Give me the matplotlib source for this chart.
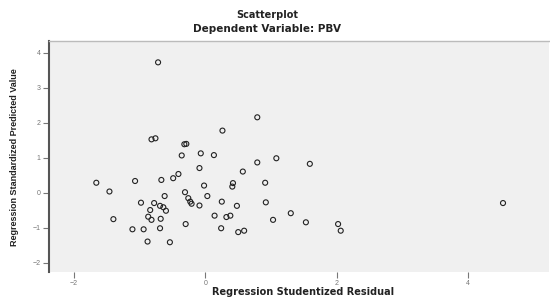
import matplotlib.pyplot as plt

# studentized residual (x) vs standardized predicted value (y)
resid = [-0.72, -0.82, -0.76, -0.29, -0.32, 0.26, 0.79, -0.36, -0.07, 0.13,
         1.08, 0.79, 1.59, -0.09, 0.57, -1.66, -1.46, -1.07, -0.67, -0.49,
         -0.41, -0.02, 0.42, 0.41, 0.91, -0.62, -0.31, -0.26, -0.23, -0.21,
         -0.09, 0.03, 0.25, 0.48, 0.92, -0.98, -0.78, -0.69, -0.60, -0.84,
         -0.87, -0.68, -0.82, -1.40, 0.14, 0.32, 0.38, -0.30, -1.11, -0.94,
         -0.69, 0.24, 0.50, 0.59, 1.03, 1.30, 1.53, 2.02, 2.06, -0.88,
         -0.54, 4.53, -0.64]
pred = [3.73, 1.53, 1.56, 1.40, 1.39, 1.78, 2.16, 1.07, 1.13, 1.08,
        0.99, 0.87, 0.83, 0.71, 0.61, 0.29, 0.04, 0.34, 0.37, 0.42,
        0.54, 0.21, 0.28, 0.18, 0.29, -0.09, 0.02, -0.15, -0.25, -0.31,
        -0.36, -0.09, -0.25, -0.37, -0.27, -0.28, -0.29, -0.37, -0.51, -0.49,
        -0.68, -0.74, -0.77, -0.75, -0.65, -0.69, -0.65, -0.89, -1.04, -1.04,
        -1.01, -1.01, -1.12, -1.08, -0.77, -0.58, -0.84, -0.89, -1.08, -1.39,
        -1.41, -0.29, -0.41]
xticks = [-2, 0, 2, 4]
yticks = [-2, -1, 0, 1, 2, 3, 4]

plt.rcParams['font.family'] = ['Liberation Sans', 'DejaVu Sans']

fig = plt.figure(figsize=(5.5, 2.99), dpi=100)
ax = fig.add_axes([49 / 550, 27 / 299, 500 / 550, 231 / 299])
ax.set_facecolor('#f0f0f0')

ax.scatter(resid, pred, s=13, facecolors='none', edgecolors='#222222', linewidths=0.8)

ax.set_xlim(-2.38, 5.23)
ax.set_ylim(-2.26, 4.34)
ax.set_xticks(xticks)
ax.set_yticks(yticks)
ax.tick_params(axis='both', labelsize=5, colors='#777777', length=4, width=0.8)
ax.tick_params(axis='x', pad=1.5)
ax.tick_params(axis='y', pad=2)

for side in ['right', 'bottom']:
    ax.spines[side].set_visible(False)
ax.spines['top'].set_color('#bbbbbb')
ax.spines['top'].set_linewidth(1)
ax.spines['left'].set_color('#555555')
ax.spines['left'].set_linewidth(1.5)

wide = ['DejaVu Sans']
fig.text(0.486, 0.950, 'Scatterplot', ha='center', va='center', family=wide,
         fontsize=7, fontweight='bold', color='#222222')
fig.text(0.486, 0.903, 'Dependent Variable: PBV', ha='center', va='center', family=wide,
         fontsize=7.5, fontweight='bold', color='#222222')
fig.text(303 / 550, 0.006, 'Regression Studentized Residual', ha='center', va='bottom',
         family=wide, fontsize=7, fontweight='bold', color='#222222')
fig.text(15 / 550, 1 - 157 / 299, 'Regression Standardized Predicted Value', rotation=90,
         ha='center', va='center', fontsize=6.5, fontweight='bold', color='#222222')

fig.savefig('out.png', dpi=100)
